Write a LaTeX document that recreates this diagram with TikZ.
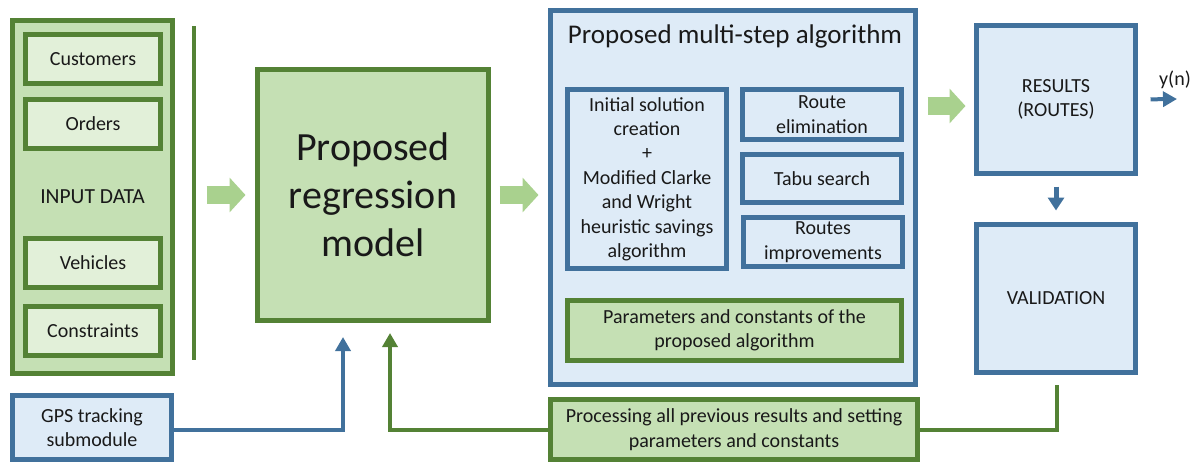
\documentclass[tikz,border=0pt]{standalone}
\usepackage{fontspec}
\setmainfont{Carlito}
\usetikzlibrary{arrows.meta,calc}
\definecolor{gborder}{RGB}{84,130,53}
\definecolor{gfill}{RGB}{197,224,180}
\definecolor{glight}{RGB}{226,240,217}
\definecolor{bborder}{RGB}{65,113,156}
\definecolor{bfill}{RGB}{222,235,247}
\definecolor{garrow}{RGB}{169,209,142}
\begin{document}
\begin{tikzpicture}[x=1pt,y=-1pt,
 box/.style={draw, inner sep=0pt, align=center, text=black!90, font=\fontsize{20}{24.4}\selectfont},
 gbox/.style={box, draw=gborder, fill=gfill, line width=5pt},
 gin/.style={box, draw=gborder, fill=glight, line width=5pt},
 bbox/.style={box, draw=bborder, fill=bfill, line width=5pt},
 fatarrow/.style={draw=garrow, line width=18pt, -{Triangle[length=16pt,width=34pt]}},
 bline/.style={draw=bborder, line width=4pt},
 gline/.style={draw=gborder, line width=4pt},
 btip/.style={-{Triangle[length=14pt,width=15pt]}},
 lbl/.style={inner sep=0pt, align=center, text=black!90, font=\fontsize{20}{24.4}\selectfont},
]
\useasboundingbox (0,0) rectangle (1198,463);
% input data
\node[gbox, minimum width=160pt, minimum height=353pt, font=\fontsize{21.5}{26}\selectfont] (input) at (92.5,197) {INPUT DATA};
\node[gin, minimum width=135pt, minimum height=49pt] (cust) at (93,59) {Customers};
\node[gin, minimum width=135pt, minimum height=49pt] (ord) at (93,124) {Orders};
\node[gin, minimum width=135pt, minimum height=49pt] (veh) at (93,263) {Vehicles};
\node[gin, minimum width=135pt, minimum height=49pt] (cons) at (93,330.5) {Constraints};
\coordinate (vtop) at (194,26);
\coordinate (vbot) at (194,360);
\draw[gline] (vtop) -- (vbot);
% GPS
\node[bbox, minimum width=159pt, minimum height=64pt] (gps) at (92,427.5) {GPS tracking\\submodule};
% regression
\node[gbox, minimum width=231pt, minimum height=251pt, font=\fontsize{40}{48}\selectfont] (reg) at (373,195) {Proposed\\regression\\model};
% multi-step
\node[bbox, minimum width=365pt, minimum height=374pt] (multi) at (733,197.5) {};
\node[lbl, font=\fontsize{27}{32}\selectfont] (title) at (735,36) {Proposed multi-step algorithm};
\node[bbox, minimum width=159pt, minimum height=179pt] (init) at (647,179) {Initial solution\\creation\\+\\Modified Clarke\\and Wright\\heuristic savings\\algorithm};
\node[bbox, minimum width=159pt, minimum height=50pt] (relim) at (822,114.5) {Route\\elimination};
\node[bbox, minimum width=159pt, minimum height=48pt] (tabu) at (822,178.5) {Tabu search};
\node[bbox, minimum width=159pt, minimum height=49pt] (rimp) at (823,242) {Routes\\improvements};
\node[gbox, minimum width=334pt, minimum height=60pt] (param) at (734.5,330.5) {Parameters and constants of the\\proposed algorithm};
% processing
\node[gbox, minimum width=367pt, minimum height=60pt] (proc) at (734,429.5) {Processing all previous results and setting\\parameters and constants};
% results / validation
\node[bbox, minimum width=159pt, minimum height=148pt] (res) at (1056,99.5) {RESULTS\\(ROUTES)};
\node[bbox, minimum width=159pt, minimum height=148pt] (val) at (1056,298.5) {VALIDATION};
\node[lbl] (yn) at (1175,80) {y(n)};
\coordinate (ynend) at (1177,99);
% fat arrows
\draw[fatarrow, shorten <=31.5pt, shorten >=9.5pt] (reg.west -| input.east) -- (reg.west);
\draw[fatarrow, shorten <=8.5pt, shorten >=9.5pt] (reg.east) -- (reg.east -| multi.west);
\draw[fatarrow, shorten <=9.5pt, shorten >=8.5pt] ($(multi.east)+(0,-91.5)$) -- ($(res.west)+(0,6.5)$);
% blue arrows
\draw[bline, btip, shorten <=12.5pt] (res.east) -- (ynend);
\draw[bline, line width=5pt, -{Triangle[length=13pt,width=16pt]}, shorten <=10.5pt, shorten >=11.5pt] (res.south) -- (val.north);
\draw[bline, btip] ($(gps.east)+(0,2.5)$) -| ($(reg.south)+(-30,14)$);
% green feedback
\draw[gline, btip] (proc.west) -| ($(reg.south)+(17,10)$);
\draw[gline] (proc.east) -| ($(val.south)+(1,10)$);
\end{tikzpicture}
\end{document}
